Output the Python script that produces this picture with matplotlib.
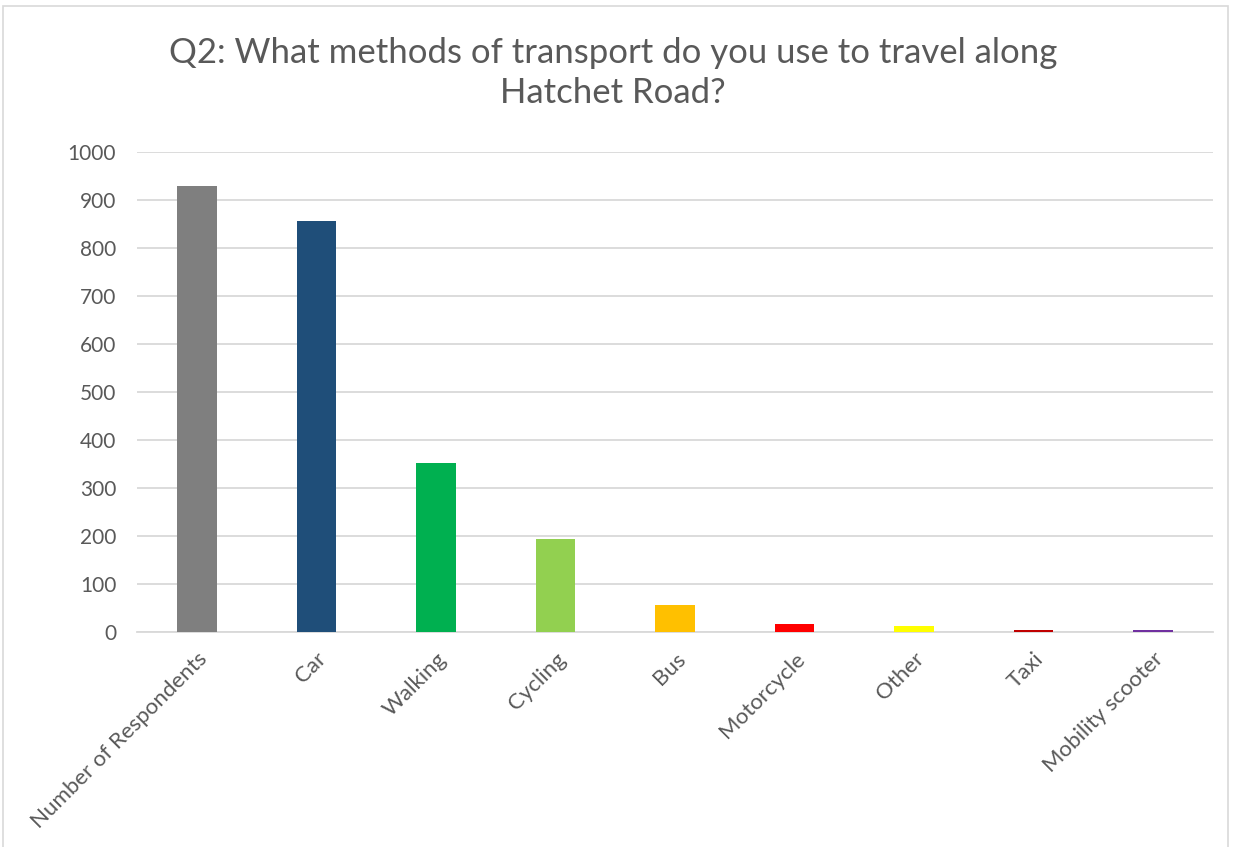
import matplotlib
matplotlib.use("Agg")
import matplotlib.pyplot as plt
from matplotlib.patches import Rectangle

categories = ["Number of Respondents", "Car", "Walking", "Cycling", "Bus",
              "Motorcycle", "Other", "Taxi", "Mobility scooter"]
counts = [929, 856, 352, 194, 57, 16, 12, 5, 5]
bar_colors = ["#7f7f7f", "#1f4e79", "#00b050", "#92d050", "#ffc000",
              "#ff0000", "#ffff00", "#c00000", "#7030a0"]
y_ticks = [0, 100, 200, 300, 400, 500, 600, 700, 800, 900, 1000]

plt.rcParams["font.family"] = ["Lato", "DejaVu Sans"]
text_color = "#595959"

fig = plt.figure(figsize=(12.35, 8.47), dpi=100)
ax = fig.add_axes([137 / 1235, 1 - 632 / 847, (1213 - 137) / 1235, (632 - 152) / 847])

x = list(range(len(categories)))
ax.bar(x, counts, width=0.33, color=bar_colors, zorder=3)

ax.set_xlim(-0.5, len(categories) - 0.5)
ax.set_ylim(0, 1000)
ax.set_yticks(y_ticks)
ax.set_yticklabels([str(v) for v in y_ticks])
ax.grid(axis="y", color="#d9d9d9", linewidth=1.3, zorder=0)
ax.set_axisbelow(True)
for side in ["top", "right", "left"]:
    ax.spines[side].set_visible(False)
ax.spines["bottom"].set_color("#d9d9d9")
ax.spines["bottom"].set_linewidth(1.3)
ax.tick_params(axis="both", length=0, labelcolor=text_color)
ax.tick_params(axis="y", pad=15, labelsize=15)
ax.tick_params(axis="x", pad=12, labelsize=16)

ax.set_xticks(x)
ax.set_xticklabels(categories, rotation=45, ha="right", va="top",
                   rotation_mode="anchor")

fig.text(613 / 1235, 1 - 73 / 847,
         "Q2: What methods of transport do you use to travel along\nHatchet Road?",
         ha="center", va="center", fontsize=25, color=text_color,
         linespacing=1.3)

# Light frame around the chart area
fig.patches.append(Rectangle((3 / 1235, -0.02), 1 - 10 / 1235, 1.02 - 6 / 847,
                             transform=fig.transFigure, fill=False,
                             edgecolor="#d9d9d9", linewidth=1.2))

fig.savefig("out.png", dpi=100, facecolor="white")
